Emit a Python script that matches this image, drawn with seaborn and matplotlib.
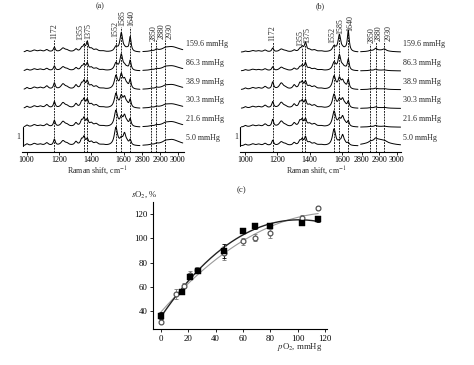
import numpy as np
import pandas as pd
import matplotlib
matplotlib.use("Agg")
import matplotlib.pyplot as plt
import seaborn as sns

# ---------------- data ----------------
PRESSURES = ["5.0", "21.6", "30.3", "38.9", "86.3", "159.6"]  # bottom -> top
MARKED_LEFT = [1172, 1355, 1375, 1552, 1585, 1640]
MARKED_RIGHT = [2850, 2880, 2930]

# Raman peak table: positions, half widths
LEFT_PEAKS = [1003, 1048, 1085, 1125, 1172, 1225, 1250, 1305, 1340, 1355, 1375,
              1400, 1430, 1470, 1552, 1585, 1605, 1620, 1640]
LEFT_WIDTHS = [10, 15, 14, 12, 7, 15, 14, 10, 9, 8, 8, 12, 14, 16, 12, 10, 10, 9, 7]

A_LEFT_AMPS = [
    [0.10, 0.12, 0.08, 0.15, 0.33, 0.25, 0.10, 0.20, 0.28, 0.40, 0.30, 0.18, 0.15, 0.05, 0.95, 0.28, 0.58, 0.12, 0.28],
    [0.10, 0.12, 0.08, 0.15, 0.33, 0.28, 0.10, 0.20, 0.28, 0.40, 0.35, 0.18, 0.15, 0.05, 0.85, 0.42, 0.52, 0.15, 0.38],
    [0.10, 0.12, 0.10, 0.18, 0.33, 0.28, 0.10, 0.22, 0.28, 0.40, 0.40, 0.18, 0.15, 0.05, 0.75, 0.55, 0.48, 0.15, 0.42],
    [0.10, 0.12, 0.10, 0.18, 0.33, 0.28, 0.10, 0.22, 0.26, 0.38, 0.40, 0.18, 0.15, 0.05, 0.70, 0.70, 0.42, 0.15, 0.48],
    [0.08, 0.10, 0.08, 0.12, 0.24, 0.20, 0.08, 0.15, 0.18, 0.28, 0.36, 0.15, 0.12, 0.05, 0.38, 0.82, 0.18, 0.10, 0.52],
    [0.08, 0.10, 0.08, 0.12, 0.24, 0.20, 0.08, 0.15, 0.18, 0.28, 0.50, 0.15, 0.12, 0.05, 0.25, 0.98, 0.10, 0.10, 0.78],
]
B_LEFT_AMPS = [
    [0.08, 0.10, 0.08, 0.12, 0.28, 0.20, 0.08, 0.15, 0.22, 0.28, 0.42, 0.15, 0.12, 0.05, 0.88, 0.14, 0.52, 0.08, 0.14],
    [0.08, 0.10, 0.08, 0.15, 0.38, 0.30, 0.08, 0.20, 0.28, 0.32, 0.38, 0.15, 0.15, 0.05, 0.82, 0.32, 0.48, 0.12, 0.28],
    [0.08, 0.10, 0.08, 0.15, 0.33, 0.30, 0.08, 0.20, 0.28, 0.32, 0.38, 0.15, 0.15, 0.05, 0.72, 0.38, 0.42, 0.12, 0.33],
    [0.08, 0.10, 0.08, 0.15, 0.38, 0.33, 0.08, 0.22, 0.28, 0.32, 0.38, 0.15, 0.15, 0.05, 0.68, 0.52, 0.38, 0.12, 0.48],
    [0.06, 0.08, 0.06, 0.10, 0.20, 0.18, 0.06, 0.12, 0.16, 0.23, 0.38, 0.12, 0.10, 0.05, 0.42, 0.78, 0.18, 0.08, 0.58],
    [0.05, 0.08, 0.06, 0.10, 0.20, 0.15, 0.06, 0.10, 0.14, 0.23, 0.48, 0.10, 0.10, 0.05, 0.28, 0.88, 0.10, 0.08, 1.12],
]

A_RIGHT_PEAKS = [2850, 2880, 2930, 2965]
B_RIGHT_PEAKS = [2850, 2880, 2930, 2895]
RIGHT_WIDTHS = [8, 8, 12, 60]
A_RIGHT_AMPS = [
    [0.03, 0.05, 0.05, 0.35],
    [0.03, 0.05, 0.05, 0.30],
    [0.03, 0.05, 0.05, 0.25],
    [0.03, 0.05, 0.05, 0.28],
    [0.03, 0.05, 0.05, 0.28],
    [0.03, 0.08, 0.05, 0.30],
]
B_RIGHT_AMPS = [
    [0.05, 0.10, 0.05, 0.35],
    [0.02, 0.06, 0.03, 0.04],
    [0.02, 0.05, 0.03, 0.04],
    [0.02, 0.05, 0.03, 0.04],
    [0.02, 0.06, 0.03, 0.04],
    [0.03, 0.12, 0.10, 0.10],
]

# panel (c)
SQ_X = [0, 15, 21, 27, 46, 60, 69, 80, 103, 115]
SQ_Y = [36, 56, 68, 73, 89.5, 106, 110, 110.4, 112.6, 115.5]
SQ_ERR = [3, 1.5, 2, 1.5, 6, 2, 2, 1.5, 1.5, 2]
CI_X = [0, 11, 17, 21, 26, 46, 60, 69, 80, 103, 115]
CI_Y = [31, 54, 61, 70, 74, 88, 97.5, 100.5, 104, 116.5, 125]
CI_ERR = [2, 4, 2, 3, 2, 6, 3, 3, 4, 3, 1.5]

# ---------------- style ----------------
sns.set_theme(style="white")
plt.rcParams['font.family'] = ['Liberation Serif', 'DejaVu Serif']
plt.rcParams['mathtext.fontset'] = 'stix'

W, H = 474, 365
fig = plt.figure(figsize=(W / 100, H / 100), dpi=100)
FS = 5.8


def add_ax(x0, x1, ytop, ybot):
    return fig.add_axes([x0 / W, 1 - ybot / H, (x1 - x0) / W, (ybot - ytop) / H])


def spectrum(x, peaks, widths, amps):
    y = np.zeros_like(x)
    for p, w, a in zip(peaks, widths, amps):
        y += a / (1 + ((x - p) / w) ** 2)
    return y


BASE0, STEP, AXBOT, AXTOP = 146.0, 18.75, 152.0, 8.0
YLIM = (-(AXBOT - BASE0) / STEP, (BASE0 - AXTOP) / STEP)


def px2y(p):
    return (BASE0 - p) / STEP


def spectra_panel(cfg):
    lmap = lambda v: cfg['l0'] + (v - 1000) * cfg['ls']
    rmap = lambda v: cfg['r0'] + (v - 2800) * cfg['rs']
    axl = add_ax(lmap(cfg['lxlim'][0]), lmap(cfg['lxlim'][1]), AXTOP, AXBOT)
    axr = add_ax(rmap(cfg['rxlim'][0]), rmap(cfg['rxlim'][1]), AXTOP, AXBOT)
    xl = np.linspace(cfg['ltrace'][0], cfg['ltrace'][1], 800)
    xr = np.linspace(cfg['rtrace'][0], cfg['rtrace'][1], 300)
    rows_l, rows_r = [], []
    for i, p in enumerate(PRESSURES):
        yl = i + spectrum(xl, LEFT_PEAKS, LEFT_WIDTHS, cfg['lamps'][i])
        yr = i + spectrum(xr, cfg['rpeaks'], RIGHT_WIDTHS, cfg['ramps'][i])
        rows_l.append(pd.DataFrame({'x': xl, 'y': yl, 'p': p}))
        rows_r.append(pd.DataFrame({'x': xr, 'y': yr, 'p': p}))
    dl = pd.concat(rows_l)
    dr = pd.concat(rows_r)
    sns.lineplot(data=dl, x='x', y='y', units='p', estimator=None, sort=False,
                 color='black', lw=0.7, ax=axl, legend=False)
    sns.lineplot(data=dr, x='x', y='y', units='p', estimator=None, sort=False,
                 color='black', lw=0.7, ax=axr, legend=False)
    for ax, lim, ticks in ((axl, cfg['lxlim'], [1000, 1200, 1400, 1600]),
                           (axr, cfg['rxlim'], [2800, 2900, 3000])):
        ax.set_xlim(*lim)
        ax.set_ylim(*YLIM)
        ax.set_xticks(ticks)
        ax.set_yticks([])
        ax.set_xlabel('')
        ax.set_ylabel('')
        ax.patch.set_alpha(0)
        for s in ('top', 'right', 'left'):
            ax.spines[s].set_visible(False)
        ax.spines['bottom'].set_linewidth(0.8)
        ax.spines['bottom'].set_color('black')
        ax.tick_params(axis='x', direction='out', length=2, width=0.6, pad=0.8,
                       labelsize=FS, colors='black', bottom=True)
    # dashed marker lines + labels
    for ax, marks, tops, offs in ((axl, MARKED_LEFT, cfg['ltops'], cfg['loffs']),
                                  (axr, MARKED_RIGHT, cfg['rtops'], cfg['roffs'])):
        for m, t, o in zip(marks, tops, offs):
            ax.vlines(m, YLIM[0], px2y(t), colors='black', lw=0.6,
                      linestyles=(0, (2.2, 1.2)), clip_on=False)
            ax.annotate(str(m), xy=(m, px2y(t)), xytext=(o * 0.72, 0.5),
                        textcoords='offset points', rotation=90, ha='center',
                        va='bottom', fontsize=FS, annotation_clip=False)
    # pressure labels
    for i, p in enumerate(PRESSURES):
        axr.annotate(f"{p} mmHg", xy=(1.0, i + 0.44),
                     xycoords=('axes fraction', 'data'), xytext=(1.5, 0),
                     textcoords='offset points', ha='left', va='center',
                     fontsize=FS, annotation_clip=False)
    # scale bar
    axl.plot([cfg['bar'], cfg['bar']], [0, 1], color='black', lw=0.8, clip_on=False)
    axl.annotate("1", xy=(cfg['bar'], 0.5), xytext=(-3, 0), textcoords='offset points',
                 ha='center', va='center', fontsize=FS, annotation_clip=False)
    fig.text(cfg['title_x'] / W, 1 - 6 / H, cfg['title'], ha='center', va='center', fontsize=FS)
    fig.text(cfg['xlab_x'] / W, 1 - 171 / H, r"Raman shift, cm$^{-1}$",
             ha='center', va='center', fontsize=FS)


spectra_panel(dict(l0=26.5, ls=0.162, r0=142.5, rs=0.175,
                   lxlim=(975, 1712), rxlim=(2795, 3035),
                   ltrace=(985, 1700), rtrace=(2802, 3030),
                   lamps=A_LEFT_AMPS, ramps=A_RIGHT_AMPS, rpeaks=A_RIGHT_PEAKS,
                   ltops=[40, 41, 40, 37.5, 27, 26.5], rtops=[41.5, 39.5, 39.5],
                   loffs=[0, -4, 1, -1, 1.4, 1.5], roffs=[2, 5.2, 4.7],
                   bar=978, title='(a)', title_x=100, xlab_x=97))
spectra_panel(dict(l0=244.9, ls=0.1615, r0=361.5, rs=0.176,
                   lxlim=(970, 1712), rxlim=(2790, 3025),
                   ltrace=(978, 1700), rtrace=(2795, 3022),
                   lamps=B_LEFT_AMPS, ramps=B_RIGHT_AMPS, rpeaks=B_RIGHT_PEAKS,
                   ltops=[42, 47, 43.5, 43.5, 35, 32], rtops=[43.5, 42, 42],
                   loffs=[0, -2, 2, -1.8, 0.6, 2], roffs=[1.0, 3.4, 4.3],
                   bar=972, title='(b)', title_x=320, xlab_x=316))

# ---------------- panel (c) ----------------
FC = 6.3
x0c, sx = 161.0, 1.367
y40, sy = 311.0, 1.2125
xlim_c = (-5.5, 121.5)
ylim_c = (25.2, 129.9)
axc = add_ax(x0c + xlim_c[0] * sx, x0c + xlim_c[1] * sx,
             y40 - (ylim_c[1] - 40) * sy, y40 - (ylim_c[0] - 40) * sy)

xs = np.linspace(0, 115, 200)
cb = np.polyfit(SQ_X, SQ_Y, 3)
cg = np.polyfit(CI_X, CI_Y, 2)
fits = pd.DataFrame({'x': np.concatenate([xs, xs]),
                     'y': np.concatenate([np.polyval(cg, xs), np.polyval(cb, xs)]),
                     's': ['gray'] * len(xs) + ['black'] * len(xs)})
sns.lineplot(data=fits[fits.s == 'gray'], x='x', y='y', color='#9a9a9a', lw=0.8, ax=axc)
sns.lineplot(data=fits[fits.s == 'black'], x='x', y='y', color='#222222', lw=1.0, ax=axc)

axc.errorbar(CI_X, CI_Y, yerr=CI_ERR, fmt='none', ecolor='#777777', elinewidth=0.6,
             capsize=1.2, capthick=0.6, zorder=3)
axc.errorbar(SQ_X, SQ_Y, yerr=SQ_ERR, fmt='none', ecolor='black', elinewidth=0.6,
             capsize=1.2, capthick=0.6, zorder=3)
sns.scatterplot(x=CI_X, y=CI_Y, marker='o', s=12, facecolor='white',
                edgecolor='#555555', linewidth=0.9, ax=axc, zorder=4)
sns.scatterplot(x=SQ_X, y=SQ_Y, marker='s', s=13, color='black',
                edgecolor='black', linewidth=0.3, ax=axc, zorder=5)

axc.set_xlim(*xlim_c)
axc.set_ylim(*ylim_c)
axc.set_xticks([0, 20, 40, 60, 80, 100, 120])
axc.set_yticks([40, 60, 80, 100, 120])
axc.set_xlabel('')
axc.set_ylabel('')
axc.patch.set_alpha(0)
for s in ('top', 'right'):
    axc.spines[s].set_visible(False)
for s in ('left', 'bottom'):
    axc.spines[s].set_linewidth(0.8)
    axc.spines[s].set_color('black')
axc.tick_params(direction='out', length=2.5, width=0.6, pad=1.5, labelsize=FC,
                colors='black', left=True, bottom=True)

fig.text(241 / W, 1 - 190 / H, '(c)', ha='center', va='center', fontsize=FC)
fig.text(131 / W, 1 - 195 / H, r"$s$O$_2$, %", ha='left', va='center', fontsize=FC)
fig.text(300 / W, 1 - 347 / H, r"$p$O$_2$, mmHg", ha='center', va='center', fontsize=FC)

fig.savefig("out.png", dpi=100, facecolor='white')
